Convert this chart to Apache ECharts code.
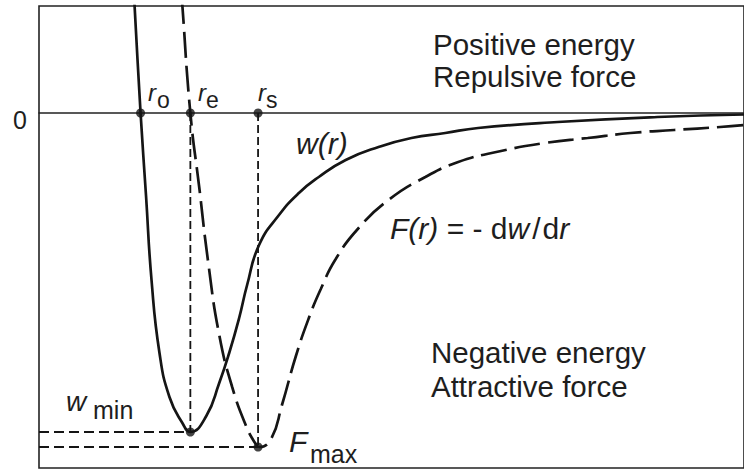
<!DOCTYPE html>
<html>
<head>
<meta charset="utf-8">
<script src="https://cdn.jsdelivr.net/npm/echarts@6/dist/echarts.min.js"></script>
<style>
  html, body { margin: 0; padding: 0; background: #fff; }
  #chart { width: 744px; height: 472px; }
</style>
</head>
<body>
<div id="chart"></div>
<script>
// Potential energy w(r) (solid curve)
const wR   = [134.5, 135, 141, 146.5, 152, 160, 170, 183, 191, 207, 220, 230, 240, 248, 260, 280, 300, 320, 347, 380, 413, 447, 480, 560, 660, 747];
const wVal = [115, 107, 0, -83, -167, -240, -284, -310, -319, -303, -270, -240, -205, -172, -132, -102, -80, -64, -47, -34, -25, -20, -15, -9, -4, -1.5];

// Force F(r) = -dw/dr (dashed curve)
const fR   = [182.5, 183, 191, 200, 209, 220, 233, 247, 256, 260, 272, 283, 297, 310, 322, 337, 360, 390, 427, 460, 503, 547, 590, 633, 677, 723, 747];
const fVal = [115, 107, 0, -75, -150, -222, -274, -313, -330, -334, -326, -292, -243, -205, -176, -146, -115, -87, -64, -49, -38, -30, -25, -20, -17, -14, -12];

// Marked separations on the zero line: r0, re, rs
const rMarks = [141, 191, 259];
const rSubs  = ['o', 'e', 's'];
// Extremes
const wMinR = 191, wMin = -319;
const fMaxR = 259, fMax = -334;

const xMin = 39, xMax = 747, yMin = -355, yMax = 107;

function pairs(xs, ys) { return xs.map((x, i) => [x, ys[i]]); }

const ink = '#151515';
const txtColor = '#1e1e1e';
const font = '"Liberation Sans", Arial, Helvetica, sans-serif';

function T(x, y, text, size, italic) {
  return { type: 'text', x: x, y: y, silent: true,
    style: { text: text, font: (italic ? 'italic ' : '') + size + 'px ' + font, fill: txtColor, verticalAlign: 'middle' } };
}

const chart = echarts.init(document.getElementById('chart'), null, { renderer: 'svg' });

const graphics = [];
graphics.push(T(13, 119.5, '0', 25, false));
const rLabelLeft = [148, 198, 258];
const subLeft = [157, 206, 266];
rMarks.forEach((r, i) => {
  graphics.push(T(rLabelLeft[i], 92, 'r', 24, true));
  graphics.push(T(subLeft[i], 99.5, rSubs[i], 23, false));
});
graphics.push(T(433, 44, 'Positive energy', 29.5, false));
graphics.push(T(433, 76, 'Repulsive force', 29.5, false));
graphics.push(T(431, 352, 'Negative energy', 29.5, false));
graphics.push(T(431, 386, 'Attractive force', 29.5, false));
graphics.push(T(296, 143, 'w(r)', 30, true));
graphics.push({ type: 'text', x: 390, y: 228, silent: true, style: {
  text: '{i|F(r)} {u|= - d}{i|w}{s|/}{u|d}{i|r}', verticalAlign: 'middle',
  font: '30px ' + font, fill: txtColor,
  rich: {
    i: { font: 'italic 30px ' + font, fill: txtColor },
    u: { font: '30px ' + font, fill: txtColor },
    s: { font: '30px ' + font, fill: txtColor, padding: [0, 2, 0, 3] }
  }
} });
graphics.push(T(66, 401, 'w', 28, true));
graphics.push(T(93, 410, 'min', 25, false));
graphics.push(T(289, 441, 'F', 30, true));
graphics.push(T(310, 454, 'max', 25, false));

const guideStyle = { color: ink, width: 1.8, type: [8, 4] };

chart.setOption({
  animation: false,
  backgroundColor: '#fff',
  grid: { left: 39, right: -3, top: 6, bottom: 4, show: true, borderColor: '#222', borderWidth: 1.6, backgroundColor: 'transparent' },
  xAxis: {
    type: 'value', min: xMin, max: xMax,
    axisLine: { show: true, onZero: true, lineStyle: { color: '#222', width: 1.5 } },
    axisTick: { show: false }, axisLabel: { show: false }, splitLine: { show: false }
  },
  yAxis: {
    type: 'value', min: yMin, max: yMax,
    axisLine: { show: false }, axisTick: { show: false }, axisLabel: { show: false }, splitLine: { show: false }
  },
  series: [
    { name: 'w(r)', type: 'line', data: pairs(wR, wVal), showSymbol: false, smooth: 0.5,
      lineStyle: { color: ink, width: 2.7 }, z: 5 },
    { name: 'F(r)', type: 'line', data: pairs(fR, fVal), showSymbol: false, smooth: 0.5,
      lineStyle: { color: ink, width: 2.7, type: [26, 8] }, z: 5 },
    { type: 'line', data: [[rMarks[1], 0], [wMinR, wMin]], showSymbol: false, lineStyle: guideStyle },
    { type: 'line', data: [[rMarks[2], 0], [fMaxR, fMax]], showSymbol: false, lineStyle: guideStyle },
    { type: 'line', data: [[xMin, wMin], [wMinR, wMin]], showSymbol: false, lineStyle: { color: ink, width: 2, type: [10, 5] } },
    { type: 'line', data: [[xMin, fMax], [fMaxR, fMax]], showSymbol: false, lineStyle: { color: ink, width: 2, type: [10, 5] } },
    { type: 'scatter', data: rMarks.map(r => [r, 0]).concat([[wMinR, wMin], [fMaxR, fMax]]),
      symbolSize: 9, itemStyle: { color: ink }, z: 10 }
  ],
  graphic: graphics
});
</script>
</body>
</html>
